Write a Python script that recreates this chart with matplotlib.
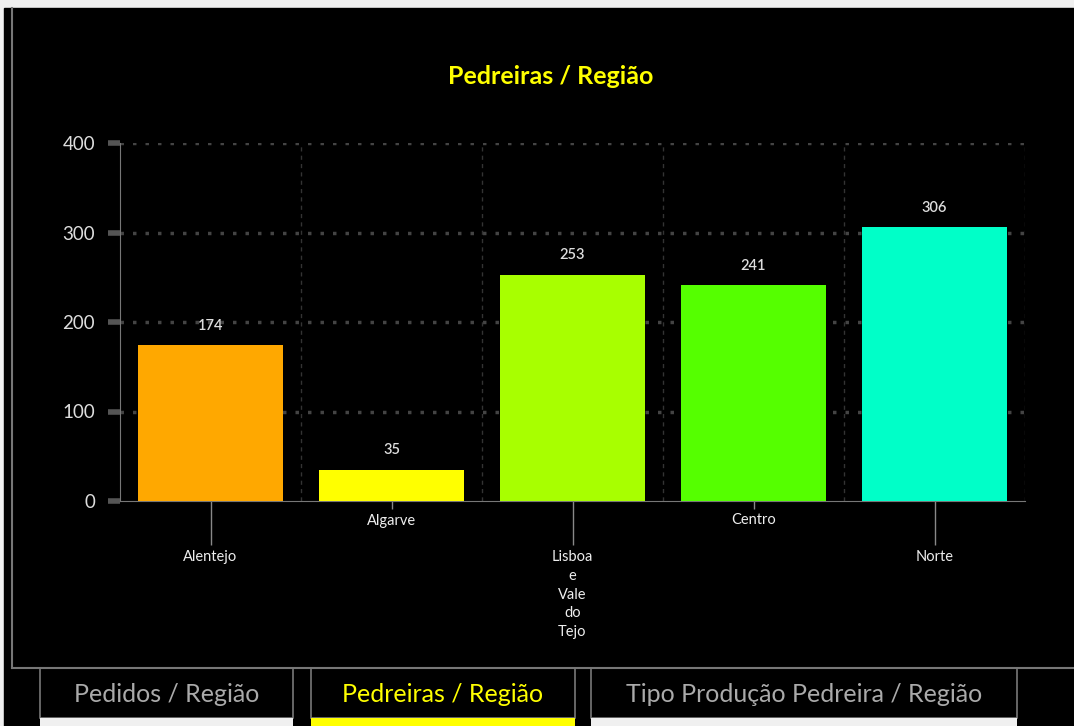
import matplotlib
matplotlib.use('Agg')
import matplotlib.pyplot as plt
from matplotlib.patches import Rectangle

regions = ['Alentejo', 'Algarve', 'Lisboa\ne\nVale\ndo\nTejo', 'Centro', 'Norte']
counts = [174, 35, 253, 241, 306]
bar_colors = ['#FFA800', '#FFFF00', '#A8FF00', '#55FF00', '#00FFC8']
tabs = ['Pedidos / Região', 'Pedreiras / Região', 'Tipo Produção Pedreira / Região']

plt.rcParams['font.family'] = ['Lato', 'DejaVu Sans']

W, H = 1074, 726
fig = plt.figure(figsize=(W/100, H/100), dpi=100)
fig.patch.set_facecolor('#f0f0f0')

def px(x0, y0, w, h):
    # pixel box (top-left origin) -> figure fraction
    return [x0/W, 1-(y0+h)/H, w/W, h/H]

# dark panel and frame
fig.add_artist(Rectangle((4/W, 0), 1-4/W, 1-8/H, transform=fig.transFigure, color='black', zorder=0))
fig.add_artist(plt.Line2D([12/W, 12/W], [1-668/H, 1-8/H], color='#777777', lw=1.5))
fig.add_artist(plt.Line2D([12/W, 1], [1-668/H, 1-668/H], color='#777777', lw=1.5))

# tabs
tab_boxes = [(40, 293), (311, 575), (591, 1017)]
for i, (name, (x0, x1)) in enumerate(zip(tabs, tab_boxes)):
    active = (i == 1)
    fig.add_artist(Rectangle((x0/W, 1-718/H), (x1-x0)/W, 50/H, transform=fig.transFigure,
                             facecolor='black', edgecolor='#777777', lw=1.2, zorder=1))
    fig.add_artist(Rectangle((x0/W, 0), (x1-x0)/W, 8/H, transform=fig.transFigure,
                             facecolor='#FFFF00' if active else '#f0f0f0', lw=0, zorder=1))
    fig.text((x0+x1)/2/W, 1-695/H, name, ha='center', va='center', fontsize=18,
             color='#FFFF00' if active else '#aaaaaa', zorder=2)

fig.text(551/W, 1-77/H, 'Pedreiras / Região', ha='center', va='center',
         fontsize=18, fontweight='bold', color='#FFFF00')

ax = fig.add_axes(px(120, 143, 905, 358))
ax.set_facecolor('black')
x = list(range(len(regions)))
bars = ax.bar(x, counts, width=0.8, color=bar_colors, zorder=3)
for xi, v in zip(x, counts):
    ax.text(xi, v + 14, str(v), ha='center', va='bottom', fontsize=10.5,
            fontweight='semibold', color='#dddddd', zorder=4)

ax.set_xlim(-0.5, len(regions) - 0.5)
ax.set_ylim(0, 400)
ax.set_yticks([0, 100, 200, 300, 400])
ax.tick_params(axis='y', length=9, width=4, color='#555555', labelcolor='#dddddd', labelsize=13.5, pad=9)

# staggered category labels
ax.set_xticks([0, 2, 4], [regions[0], regions[2], regions[4]])
ax.set_xticks([1, 3], [regions[1], regions[3]], minor=True)
ax.tick_params(axis='x', which='major', length=32, width=1, color='#888888',
               labelcolor='#eeeeee', labelsize=10.5, pad=3)
ax.tick_params(axis='x', which='minor', length=6, width=1, color='#888888',
               labelcolor='#eeeeee', labelsize=10.5, pad=3)
for lbl in ax.get_xticklabels():
    lbl.set_linespacing(1.45)

for sp in ['top', 'right']:
    ax.spines[sp].set_visible(False)
ax.spines['left'].set_color('#777777')
ax.spines['bottom'].set_color('#777777')

# grid
for yv in [100, 200, 300, 400]:
    ax.axhline(yv, color='#444444', lw=2.5, ls=(0, (1, 2.6)), zorder=1)
for xv in [0.5, 1.5, 2.5, 3.5, 4.5]:
    ax.axvline(xv, color='#333333', lw=1, ls=(0, (3, 3)), zorder=1)

fig.savefig('out.png', dpi=100, facecolor=fig.get_facecolor())
